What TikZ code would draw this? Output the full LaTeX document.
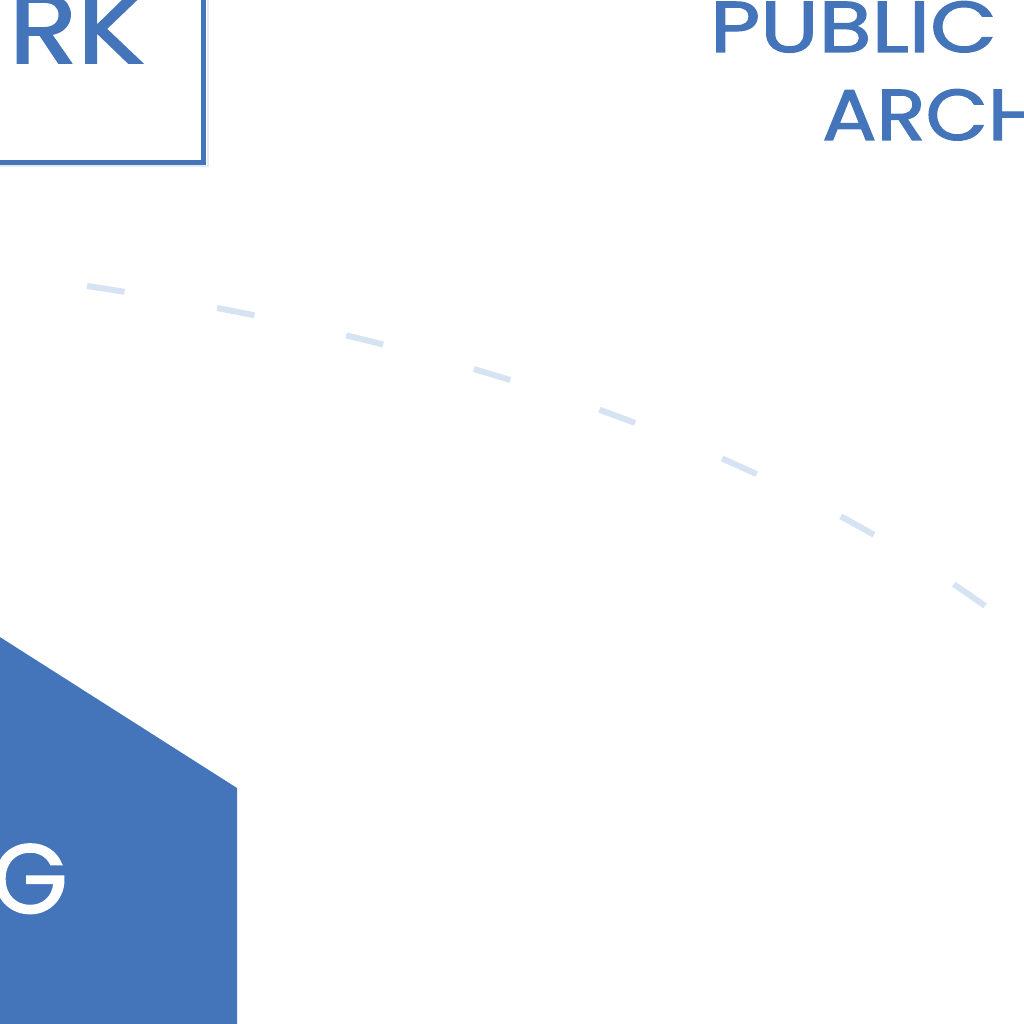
\documentclass[tikz,border=0pt]{standalone}
\usepackage{fontspec}
\setmainfont{Poppins}
\newfontfamily\handfont{Poppins}[FakeBold=1.6]
\definecolor{ibmblue}{HTML}{4475BB}
\definecolor{dashblue}{HTML}{D5E3F2}
\definecolor{shadowblue}{HTML}{E2EAF4}
\begin{document}
\begin{tikzpicture}[x=1pt,y=-1pt,
  lbl/.style={font=\fontsize{72}{72}\handfont, text=ibmblue, inner sep=0pt},
  biglbl/.style={font=\fontsize{98}{98}\handfont, inner sep=0pt},
  boxline/.style={draw=ibmblue, line width=5pt},
  dashline/.style={draw=dashblue, line width=6pt, dash pattern=on 38pt off 94pt}]
\useasboundingbox (0,0) rectangle (1024,1024);
\clip (0,0) rectangle (1024,1024);
% box (partly outside the frame)
\draw[shadowblue, line width=2pt] (-40,-60) rectangle (207.5,166.5);
\draw[boxline] (-40,-60) rectangle (203.5,162.5);
\node[biglbl, text=ibmblue, anchor=base east, xscale=1.15] (rk) at (145,63) {RK};
% title
\node[lbl, anchor=base west, xscale=1.2] (pub) at (710,52) {PUBLIC};
\node[lbl, anchor=base west, xscale=1.12] (arch) at (822,140) {ARCH};
% dashed connector
\coordinate (cstart) at (87,286);
\coordinate (cend) at (988,608);
\draw[dashline] (cstart) .. controls (469,343) and (769,451) .. (cend);
% hexagon
\fill[ibmblue] (-30,618) -- (237,788) -- (237,1040) -- (-30,1040) -- cycle;
\node[biglbl, text=white, anchor=base east] (ing) at (68,913) {ING};
\end{tikzpicture}
\end{document}
